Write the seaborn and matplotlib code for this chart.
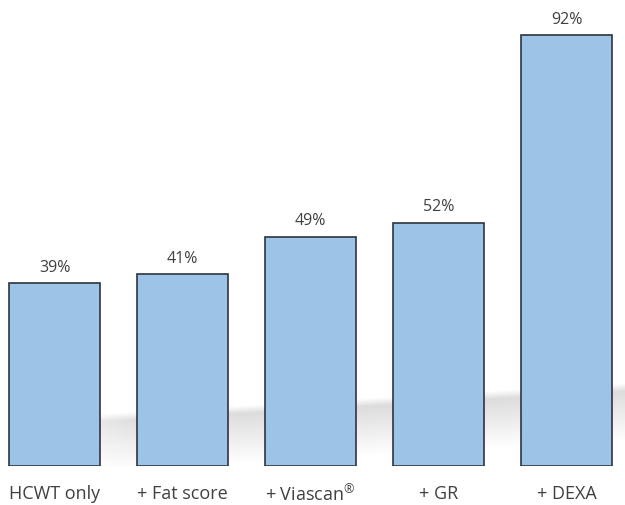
import matplotlib
matplotlib.use("Agg")
import matplotlib.pyplot as plt
import seaborn as sns
import numpy as np
import pandas as pd

categories = ["HCWT only", "+ Fat score", "+ Viascan$^{\\circledR}$", "+ GR", "+ DEXA"]
values = [39, 41, 49, 52, 92]
value_labels = ["39%", "41%", "49%", "52%", "92%"]

df = pd.DataFrame({"cat": categories, "val": values})

sns.set_theme(style="white")
plt.rcParams['font.family'] = ['Open Sans', 'DejaVu Sans']
plt.rcParams['mathtext.fontset'] = 'custom'
plt.rcParams['mathtext.rm'] = 'Open Sans'

W, H = 625, 506
fig = plt.figure(figsize=(W / 100, H / 100), dpi=100)
fig.patch.set_facecolor("white")
ax = fig.add_axes([0, 39 / H, 1, 467 / H])

# soft perspective shadow behind the bars
sax = fig.add_axes([0, 0, 1, 1], zorder=-1)
sax.set_xlim(0, W); sax.set_ylim(H, 0); sax.axis("off")
yy, xx = np.mgrid[0:H, 0:W].astype(float)
top_edge = 428 - 0.058 * xx
d = yy - top_edge
alpha = np.where(d < 0, np.clip(1 + d / 8, 0, 1), np.clip(1 - d / 50, 0, 1)) * 0.34
alpha *= np.clip((xx - 20) / 120, 0, 1)
alpha[yy > 467] = 0
img = np.ones((H, W, 4)) * np.array([0.6, 0.6, 0.6, 0])
img[..., 3] = alpha
sax.imshow(img, extent=(0, W, H, 0), interpolation="bilinear")

sns.barplot(data=df, x="cat", y="val", ax=ax, color="#9DC3E6", saturation=1,
            width=0.71, edgecolor="#2B3540", linewidth=1.2)
for p in ax.patches:
    p.set_facecolor("#9DC3E6")

for i, (v, lab) in enumerate(zip(values, value_labels)):
    ax.annotate(lab, (i, v), xytext=(0, 6), textcoords="offset points",
                ha="center", va="bottom", fontsize=11.5, color="#404040")

ax.set_xlim(-0.426, 4.457)
ax.set_ylim(0, 467 / 4.68)
ax.set_xlabel(""); ax.set_ylabel("")
ax.set_yticks([])
ax.tick_params(axis="x", length=0, pad=13, labelsize=13, colors="#404040")
ax.patch.set_alpha(0)
for s in ax.spines.values():
    s.set_visible(False)

fig.savefig("out.png", dpi=100)
